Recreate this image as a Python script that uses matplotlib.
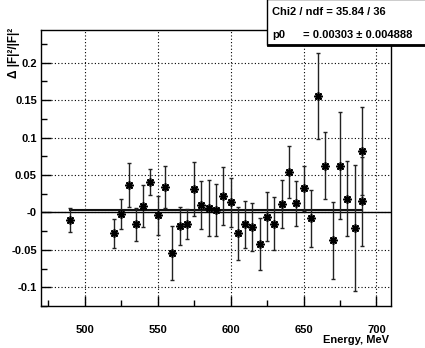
import matplotlib
matplotlib.use('Agg')
import matplotlib.pyplot as plt
from matplotlib.patches import Rectangle
from matplotlib.ticker import MultipleLocator

# data
energy = [490, 520, 525, 530, 535, 540, 545, 550, 555, 560, 565, 570, 575,
          580, 585, 590, 595, 600, 605, 610, 615, 620, 625, 630, 635, 640,
          645, 650, 655, 660, 665, 670, 675, 680, 685, 690, 690]
delta = [-0.0107, -0.028, -0.002, 0.0366, -0.016, 0.009, 0.0406, -0.004,
         0.034, -0.0543, -0.018, -0.0156, 0.031, 0.0103, 0.0059, 0.0036,
         0.022, 0.0134, -0.028, -0.0156, -0.0195, -0.0423, -0.0058, -0.015,
         0.0107, 0.0544, 0.012, 0.032, -0.008, 0.1556, 0.0624, -0.0374,
         0.0624, 0.0183, -0.0205, 0.082, 0.0147]
delta_err = [0.016, 0.0196, 0.020, 0.030, 0.022, 0.028, 0.017, 0.026,
             0.0276, 0.0365, 0.025, 0.020, 0.036, 0.032, 0.0375, 0.0345,
             0.039, 0.033, 0.035, 0.0315, 0.0325, 0.0345, 0.0325, 0.035,
             0.032, 0.035, 0.030, 0.030, 0.0378, 0.057, 0.045, 0.051,
             0.0713, 0.050, 0.084, 0.059, 0.059]

p0 = 0.00303
fit_range = [490, 690]

xticks = [500, 550, 600, 650, 700]
yticks = [-0.1, -0.05, 0, 0.05, 0.1, 0.15, 0.2]
ytick_labels = ['-0.1', '-0.05', '-0', '0.05', '0.1', '0.15', '0.2']

plt.rcParams['font.family'] = ['Liberation Sans', 'DejaVu Sans']
plt.rcParams['font.weight'] = 'bold'
plt.rcParams['font.size'] = 8

W, H = 425, 348
fig = plt.figure(figsize=(W / 100, H / 100), dpi=100)
ax = fig.add_axes([41 / W, 1 - 306 / H, (391 - 41) / W, (306 - 30) / H])

# grid
for xv in xticks:
    ax.axvline(xv, color='black', lw=0.8, ls=(0, (1, 2)), zorder=0)
for yv in yticks:
    ax.axhline(yv, color='black', lw=0.8, ls=(0, (1, 2)), zorder=0)

ax.axhline(0, color='black', lw=1.0, zorder=1)

# fit line
ax.plot(fit_range, [p0, p0], color='#111111', lw=1.5, zorder=2)

# points
ax.errorbar(energy, delta, yerr=delta_err, fmt='none', ecolor='#222222',
            elinewidth=1.0, capsize=1.5, capthick=1.0, zorder=3)
ax.plot(energy, delta, ls='none', marker=(8, 2, 0), ms=6, mew=1.2,
        color='black', zorder=4)

ax.set_xlim(470, 710)
ax.set_ylim(-0.125, 0.2437)
ax.set_xticks(xticks)
ax.set_xticklabels([str(v) for v in xticks])
ax.set_yticks(yticks)
ax.set_yticklabels(ytick_labels)
ax.xaxis.set_minor_locator(MultipleLocator(25))
ax.yaxis.set_minor_locator(MultipleLocator(0.025))
ax.tick_params(which='both', direction='in', top=False, right=False)
ax.tick_params(which='major', length=7, width=1)
ax.tick_params(which='minor', length=4, width=1)
ax.tick_params(axis='x', which='major', pad=14)
ax.tick_params(axis='y', which='major', pad=3)
for s in ax.spines.values():
    s.set_linewidth(1.0)

# axis titles
fig.text(389 / W, 1 - 343 / H, 'Energy, MeV', ha='right', va='baseline', fontsize=8)
fig.text(14 / W, 1 - 28 / H, 'Δ |F|²/|F|²', rotation=90, ha='center', va='top', fontsize=8.5)

# stats box
fig.patches.append(Rectangle((267 / W, 1 - 45 / H), 170 / W, 46 / H,
                             transform=fig.transFigure, facecolor='white',
                             edgecolor='black', lw=1.0, zorder=5))
fig.lines.append(plt.Line2D([268 / W, 1], [1 - 45 / H, 1 - 45 / H],
                            transform=fig.transFigure, color='black', lw=2, zorder=6))
fig.text(272 / W, 1 - 15 / H, 'Chi2 / ndf = 35.84 / 36', ha='left', va='baseline',
         fontsize=8, zorder=7)
fig.text(272 / W, 1 - 38 / H, 'p0', ha='left', va='baseline', fontsize=8, zorder=7)
fig.text(303 / W, 1 - 38 / H, '= 0.00303 ± 0.004888', ha='left', va='baseline',
         fontsize=8, zorder=7)

fig.savefig('out.png', dpi=100)
